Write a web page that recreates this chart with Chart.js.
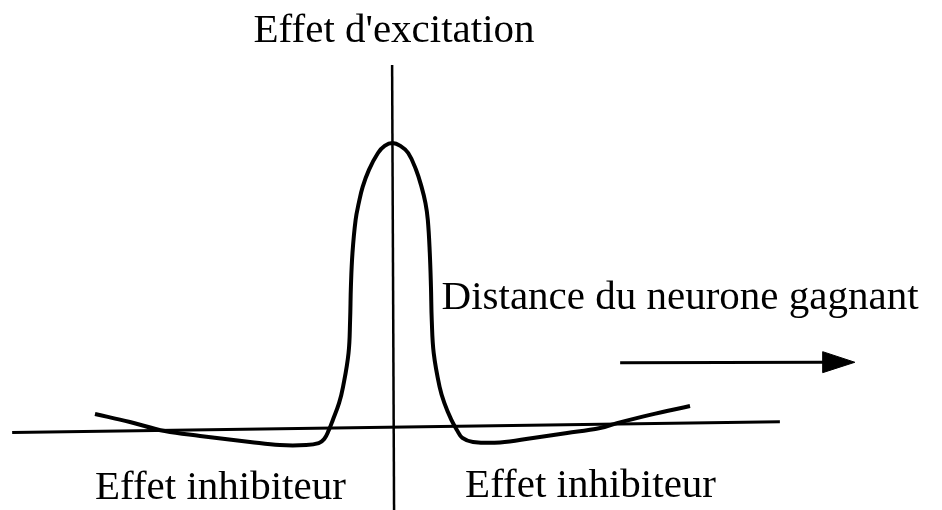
<!DOCTYPE html>
<html>
<head>
<meta charset="utf-8">
<script src="https://cdn.jsdelivr.net/npm/chart.js@4/dist/chart.umd.min.js"></script>
<style>
  body { margin: 0; background: #fff; }
  #wrap { width: 942px; height: 510px; }
</style>
</head>
<body>
<div id="wrap"><canvas id="graphCanvas" width="942" height="510"></canvas></div>
<script>
// courbe "chapeau mexicain" (distance, effet)
var curveX = [-7.58, -6.69, -5.80, -4.90, -3.63, -2.87, -2.20, -1.88, -1.74, -1.62, -1.52, -1.36, -1.26, -1.12, -1.08, -1.06, -1.02, -0.94, -0.86, -0.76, -0.60, -0.37, -0.20, 0.0,
              0.20, 0.40, 0.60, 0.74, 0.84, 0.90, 0.95, 0.98, 1.00, 1.05, 1.20, 1.32, 1.50, 1.64, 1.78, 2.05, 2.74, 3.58, 4.45, 5.29, 5.72, 6.56, 7.58];
var curveY = [0.47, 0.19, -0.13, -0.30, -0.51, -0.62, -0.62, -0.55, -0.41, -0.09, 0.26, 0.86, 1.42, 2.61, 3.77, 4.93, 6.12, 7.28, 7.87, 8.44, 9.04, 9.63, 9.88, 9.98,
              9.88, 9.63, 9.04, 8.44, 7.87, 7.28, 6.12, 4.93, 3.77, 2.61, 1.42, 0.86, 0.26, -0.09, -0.37, -0.51, -0.53, -0.37, -0.20, -0.02, 0.15, 0.44, 0.75];

// axes dessines
var hAxisX = [-9.69, 9.87];
var hAxisY = [-0.18, 0.20];
var vAxisX = [-0.01, 0.04];
var vAxisY = [12.72, -2.9];

// fleche
var arrowX = [5.80, 11.0];
var arrowY = [2.27, 2.285];
var headX = [10.96, 11.78, 10.96, 10.96];
var headY = [2.657, 2.285, 1.92, 2.657];

// textes
var labels = ["Effet d'excitation", "Distance du neurone gagnant", "Effet inhibiteur", "Effet inhibiteur"];
var labelX = [0.04, 1.25, -7.58, 1.85];
var labelY = [13.53, 4.16, -2.51, -2.44];
var labelAlign = ["center", "left", "left", "left"];

var FONT = '41px "Liberation Serif"';

function pts(xs, ys) {
    var out = [];
    for (var i in xs) {
        out.push({x: xs[i], y: ys[i]});
    }
    return out;
}

var lineStyle = {showLine: true, pointRadius: 0, borderColor: '#000', fill: false, clip: false};

var chartdata = {
    datasets: [
        Object.assign({label: 'axe h', data: pts(hAxisX, hAxisY), borderWidth: 3}, lineStyle),
        Object.assign({label: 'axe v', data: pts(vAxisX, vAxisY), borderWidth: 2.5}, lineStyle),
        Object.assign({label: 'effet', data: pts(curveX, curveY), borderWidth: 4, tension: 0.4}, lineStyle),
        Object.assign({label: 'fleche', data: pts(arrowX, arrowY), borderWidth: 3}, lineStyle),
        {label: 'pointe', data: pts(headX, headY), showLine: true, pointRadius: 0, borderColor: '#000', borderWidth: 1,
         backgroundColor: '#000', fill: 'shape', clip: false}
    ]
};

var textPlugin = {
    id: 'texts',
    afterDatasetsDraw: function(chart) {
        var ctx = chart.ctx;
        var xs = chart.scales.x, ys = chart.scales.y;
        ctx.save();
        ctx.fillStyle = '#000';
        ctx.font = FONT + ', "Times New Roman", serif';
        ctx.textBaseline = 'alphabetic';
        for (var i in labels) {
            ctx.textAlign = labelAlign[i];
            ctx.fillText(labels[i], xs.getPixelForValue(labelX[i]), ys.getPixelForValue(labelY[i]));
        }
        ctx.restore();
    }
};

function draw() {
    var ctx = document.getElementById('graphCanvas');
    var graph = new Chart(ctx, {
        type: 'scatter',
        data: chartdata,
        plugins: [textPlugin],
        options: {
            responsive: false,
            animation: false,
            devicePixelRatio: 1,
            layout: {padding: 0},
            plugins: {legend: {display: false}, tooltip: {enabled: false}},
            scales: {
                x: {type: 'linear', min: -10, max: 14, display: false},
                y: {type: 'linear', min: -2.9, max: 15, display: false}
            }
        }
    });
}

if (document.fonts && document.fonts.load) {
    document.fonts.load(FONT).then(draw, draw);
} else {
    draw();
}
</script>
</body>
</html>
